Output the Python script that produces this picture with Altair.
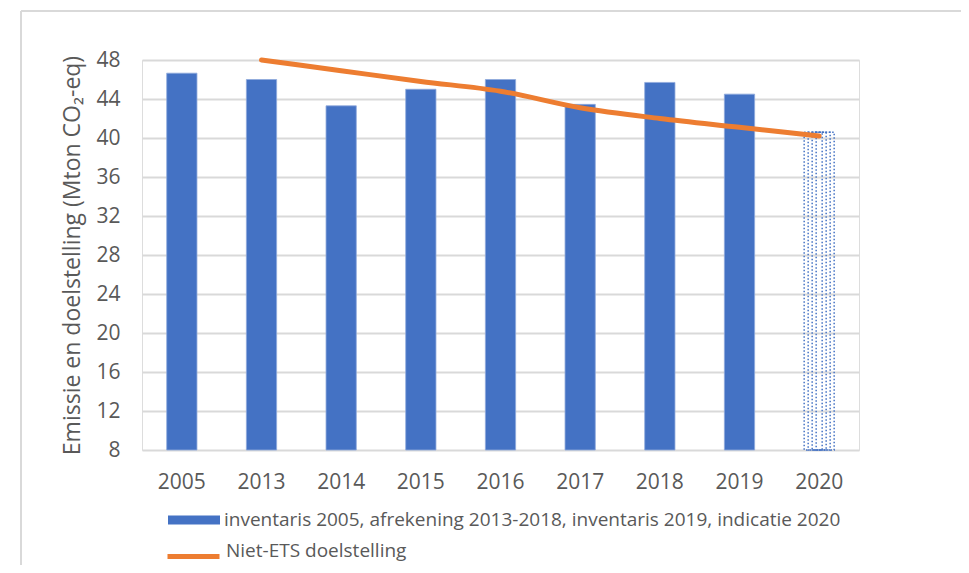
import altair as alt
import pandas as pd

years = ["2005", "2013", "2014", "2015", "2016", "2017", "2018", "2019", "2020"]
emissions = [46.65, 46.0, 43.3, 45.0, 46.0, 43.45, 45.7, 44.5, 40.6]
target = [None, 48.0, 46.9, 45.8, 44.8, 43.1, 42.0, 41.1, 40.2]
bar_label = "inventaris 2005, afrekening 2013-2018, inventaris 2019, indicatie 2020"
line_label = "Niet-ETS doelstelling"
y_ticks = list(range(8, 49, 4))
y_title = "Emissie en doelstelling (Mton CO\u2082-eq)"

BLUE = "#4472C4"
ORANGE = "#ED7D31"
GRID = "#D9D9D9"
TEXT = "#595959"
FONT = "Open Sans"

df = pd.DataFrame({"year": years, "emission": emissions, "target": target,
                   "serie": bar_label, "lserie": line_label})

x_axis = alt.Axis(labelAngle=0, domain=False, ticks=False, grid=False,
                  labelPadding=21, labelFontSize=21, labelColor=TEXT,
                  labelFont=FONT, labelOverlap=False)
x_scale = alt.Scale(paddingInner=0.62, paddingOuter=0.31)
y_axis = alt.Axis(values=y_ticks, domain=False, ticks=False, grid=True,
                  gridColor=GRID, gridWidth=2, labelPadding=22,
                  labelFontSize=21, labelColor=TEXT, labelFont=FONT,
                  labelOverlap=False,
                  titleFontSize=23, titleColor=TEXT, titleFont=FONT,
                  titleFontWeight="normal", titleX=-70, titleY=195,
                  titleAngle=270, titleAlign="center", titleBaseline="middle")
y_scale = alt.Scale(domain=[8, 48], nice=False, zero=False)


def xe():
    return alt.X("year:O", sort=years, title=None, scale=x_scale, axis=x_axis)


def ye(field):
    return alt.Y(f"{field}:Q", scale=y_scale, title=y_title, axis=y_axis)


base = alt.Chart(df)

bars = base.transform_filter(alt.datum.year != "2020").mark_bar(
    stroke="#8FAADC", strokeWidth=0.8).encode(
    x=xe(), y=ye("emission"), y2=alt.Y2(datum=8),
    fill=alt.Fill("serie:N", title=None,
                  scale=alt.Scale(domain=[bar_label], range=[BLUE]),
                  legend=alt.Legend(orient="none", legendX=26, legendY=434,
                                    symbolType="M-1,-0.17H1V0.17H-1Z", symbolSize=2704,
                                    symbolStrokeWidth=0, labelFontSize=19, labelLimit=0,
                                    labelColor=TEXT, labelFont=FONT, labelOffset=4)))

dotted = []
for w in [30, 22, 14, 6]:
    dotted.append(base.transform_filter(alt.datum.year == "2020").mark_bar(
        size=w, fillOpacity=0, stroke=BLUE, strokeWidth=1.5, strokeDash=[1.5, 2]).encode(
        x=xe(), y=ye("emission"), y2=alt.Y2(datum=8)))

line = base.transform_filter(alt.datum.target != None).mark_line(
    strokeWidth=5, strokeCap="round", interpolate="monotone").encode(
    x=xe(), y=ye("target"),
    stroke=alt.Stroke("lserie:N", title=None,
                      scale=alt.Scale(domain=[line_label], range=[ORANGE]),
                      legend=alt.Legend(orient="none", legendX=23, legendY=462,
                                        symbolType="M-1,0.23H1", symbolSize=2704,
                                        symbolStrokeWidth=5, labelFontSize=19, labelLimit=0,
                                        labelColor=TEXT, labelFont=FONT, labelOffset=4)))

frame_data = alt.Data(values=[{}])
frame_top = alt.Chart(frame_data).mark_rule(color=GRID, strokeWidth=2).encode(
    x=alt.value(-121), x2=alt.value(830), y=alt.value(-49))
frame_left = alt.Chart(frame_data).mark_rule(color=GRID, strokeWidth=2).encode(
    x=alt.value(-121), y=alt.value(-49), y2=alt.value(520))

chart = alt.layer(frame_top, frame_left, bars, *dotted, line).resolve_scale(
    fill="independent", stroke="independent").properties(
    width=717, height=390, autosize="none",
    padding={"left": 134, "top": 52, "right": 102, "bottom": 115}
).configure_view(stroke=None).configure(background="white")

chart.save("out.html", embed_options={"renderer": "svg", "actions": False})
